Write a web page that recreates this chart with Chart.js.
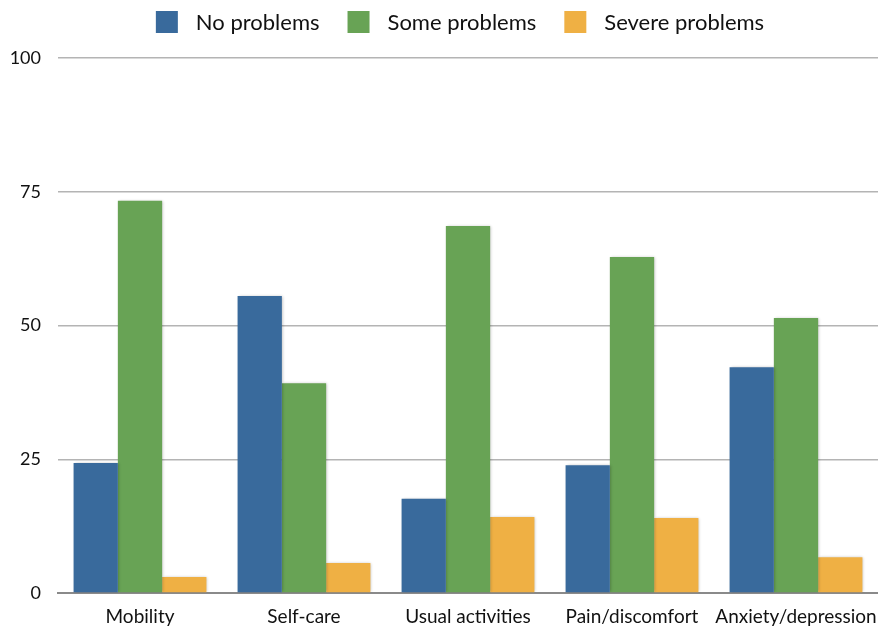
<!DOCTYPE html>
<html>
<head>
<meta charset="utf-8">
<script src="https://cdn.jsdelivr.net/npm/chart.js@4"></script>
<style>
  html, body { margin: 0; padding: 0; background: #ffffff; }
  #wrap { width: 878px; height: 630px; }
</style>
</head>
<body>
<div id="wrap"><canvas id="c" width="878" height="630"></canvas></div>
<script>
const categories = ['Mobility', 'Self-care', 'Usual activities', 'Pain/discomfort', 'Anxiety/depression'];
const noProblems = [24.3, 55.5, 17.6, 23.9, 42.2];
const someProblems = [73.3, 39.2, 68.6, 62.8, 51.4];
const severeProblems = [3.0, 5.6, 14.2, 14.0, 6.7];
const yTicks = [0, 25, 50, 75, 100];

const FONT = 'Lato, "Open Sans", "DejaVu Sans", sans-serif';

// soft drop shadow behind the bars
const barShadow = {
  id: 'barShadow',
  beforeDatasetsDraw(chart) {
    const ctx = chart.ctx;
    ctx.save();
    ctx.shadowColor = 'rgba(0,0,0,0.28)';
    ctx.shadowBlur = 3;
    ctx.shadowOffsetX = 1;
    ctx.shadowOffsetY = 0;
  },
  afterDatasetsDraw(chart) {
    chart.ctx.restore();
  }
};

// legend row across the top: square swatch, wide gap, then the series name
const topLegend = {
  id: 'topLegend',
  afterDraw(chart) {
    const ctx = chart.ctx;
    const box = 22, gapText = 18, gapItem = 28, centerX = 460, midY = 22;
    ctx.save();
    ctx.font = '22px ' + FONT;
    ctx.textBaseline = 'middle';
    const items = chart.data.datasets.map(ds => ({
      text: ds.label, color: ds.backgroundColor, w: ctx.measureText(ds.label).width
    }));
    let total = 0;
    items.forEach((it, i) => { total += box + gapText + it.w + (i ? gapItem : 0); });
    let x = centerX - total / 2;
    items.forEach(it => {
      ctx.fillStyle = it.color;
      ctx.fillRect(x, midY - box / 2, box, box);
      ctx.fillStyle = '#111';
      ctx.fillText(it.text, x + box + gapText, midY + 1);
      x += box + gapText + it.w + gapItem;
    });
    ctx.restore();
  }
};

new Chart(document.getElementById('c'), {
  type: 'bar',
  data: {
    labels: categories,
    datasets: [
      { label: 'No problems', data: noProblems, backgroundColor: '#396a9c' },
      { label: 'Some problems', data: someProblems, backgroundColor: '#68a355' },
      { label: 'Severe problems', data: severeProblems, backgroundColor: '#efb044' }
    ]
  },
  options: {
    responsive: false,
    animation: false,
    layout: { padding: { left: 0, right: 0, top: 58, bottom: 1 } },
    datasets: { bar: { categoryPercentage: 0.81, barPercentage: 1.0, borderWidth: 0 } },
    plugins: {
      legend: { display: false },
      tooltip: { enabled: false }
    },
    scales: {
      x: {
        afterFit(scale) {
          scale.height = 36;
          scale.paddingLeft = 0;
          scale.paddingRight = 0;
        },
        grid: { display: false, drawTicks: false },
        border: { display: true, color: '#8a8a8a', width: 2 },
        ticks: { color: '#111', font: { family: FONT, size: 19 }, padding: 12, maxRotation: 0, autoSkip: false }
      },
      y: {
        min: 0,
        max: 100,
        afterBuildTicks(scale) { scale.ticks = yTicks.map(v => ({ value: v })); },
        afterFit(scale) {
          scale.width = 58;
          scale.paddingTop = 0;
          scale.paddingBottom = 0;
        },
        grid: { color: '#b4b4b4', lineWidth: 1.5, drawTicks: false },
        border: { display: false },
        ticks: { color: '#111', font: { family: FONT, size: 18 }, padding: 17 }
      }
    }
  },
  plugins: [barShadow, topLegend]
});
</script>
</body>
</html>
